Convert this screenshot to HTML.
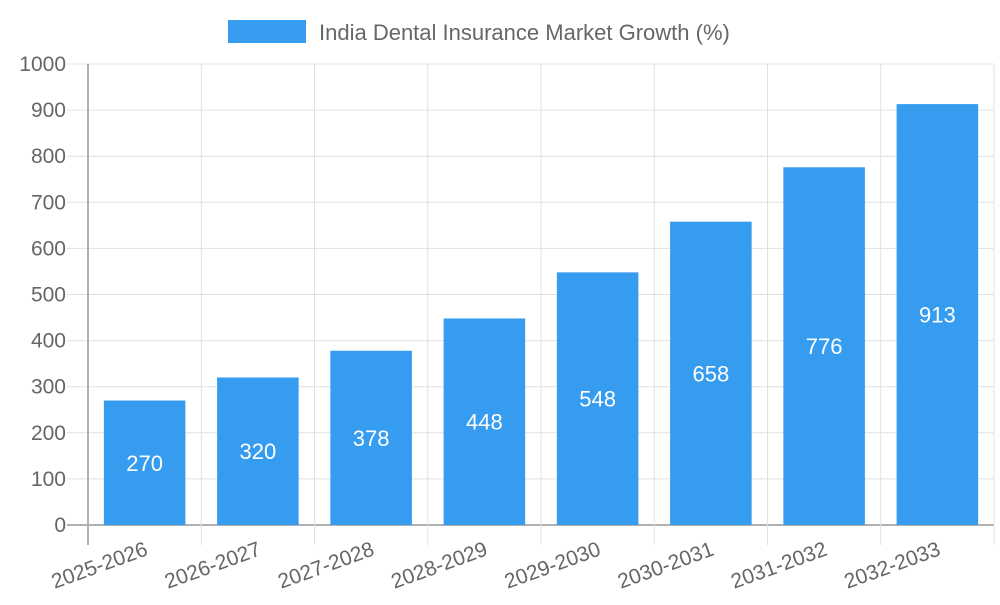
<!DOCTYPE html>
<html><head><meta charset="utf-8"><style>
body{margin:0;background:#fff}
svg text{font-family:"Liberation Sans",sans-serif}
</style></head><body>
<svg id="chart" width="1000" height="600">
<g id="grid"></g>
<g id="bars"></g>
<g id="axes"></g>
<g>
<rect x="228" y="20" width="78" height="23" fill="#369cf0"/>
<text x="319" y="40" font-size="22" fill="#666">India Dental Insurance Market Growth (%)</text>
</g>
</svg>
<script>
const categories=["2025-2026","2026-2027","2027-2028","2028-2029","2029-2030","2030-2031","2031-2032","2032-2033"];
const values=[270,320,378,448,548,658,776,913];
const yTicks=[0,100,200,300,400,500,600,700,800,900,1000];
const NS="http://www.w3.org/2000/svg";
const L=88,R=994,T=64,B=525,yMax=1000;
const bw=(R-L)/categories.length;
const y=v=>B-(v/yMax)*(B-T);
const x=i=>L+bw*i;
function mk(tag,attrs,parent,txt){const e=document.createElementNS(NS,tag);for(const k in attrs)e.setAttribute(k,attrs[k]);if(txt!==undefined)e.textContent=txt;parent.appendChild(e);return e;}
const grid=document.getElementById('grid'),bars=document.getElementById('bars'),axes=document.getElementById('axes');
yTicks.forEach(t=>{
  const l=mk('line',{x1:67,x2:R,y1:y(t),y2:y(t),stroke:t===0?'#b0b0b0':'#e0e0e0','stroke-width':t===0?2:1},grid);
  
  
  const tx=mk('text',{x:66,y:y(t)+7,'text-anchor':'end','font-size':21,fill:'#666'},axes,t);
  
  
});
for(let i=0;i<=categories.length;i++){
  const l=mk('line',{x1:x(i),x2:x(i),y1:T,y2:545,stroke:i===0?'#b0b0b0':'#e0e0e0','stroke-width':i===0?2:1},grid);
  
  
}
categories.forEach((c,i)=>{
  const cx=x(i)+bw/2,w=bw*0.72;
  const r=mk('rect',{x:cx-w/2,y:y(values[i]),width:w,height:B-y(values[i]),fill:'#369cf0'},bars);
  
  
  const v=mk('text',{x:cx,y:(y(values[i])+B)/2+8,'text-anchor':'middle','font-size':22,fill:'#fff'},bars,values[i]);
  
  
  const lt=mk('text',{x:cx+2,y:555,'text-anchor':'end','font-size':21,fill:'#666',transform:`rotate(-20 ${cx+2} 548)`},axes,c);
  
  
});
</script>
</body></html>
